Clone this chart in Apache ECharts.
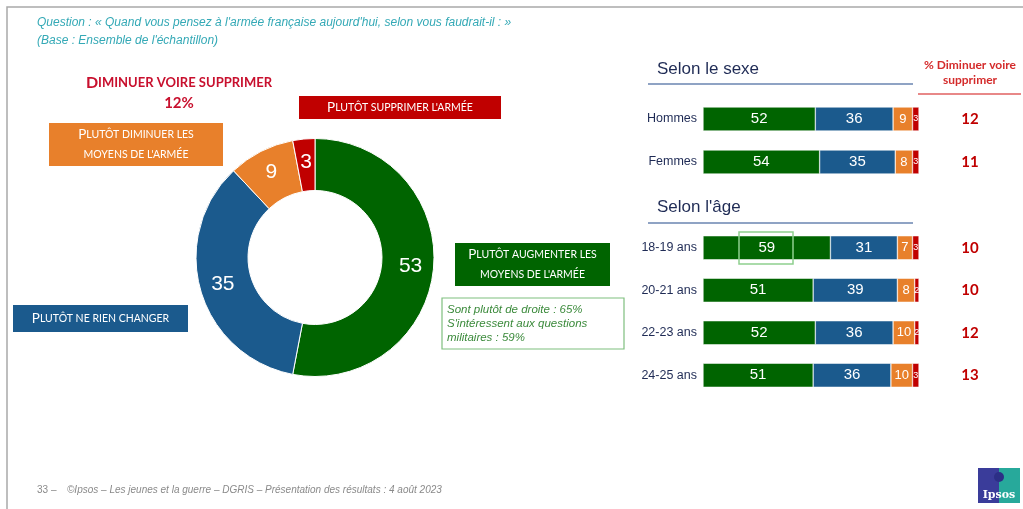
<!DOCTYPE html>
<html>
  <head>
    <meta charset="utf-8">
    <title>Ipsos - armée française</title>
    <style>
      html, body { margin: 0; padding: 0; background: #fff; }
    </style>
  </head>
  <body>
    <div id="main" style="width: 1023px;height:509px;"></div>

  <script src="https://cdn.jsdelivr.net/npm/echarts@6/dist/echarts.min.js" charset="utf-8"></script>
  <script type="text/javascript">
  // donut
  var pieNames = ['Plutôt augmenter les moyens de l\'armée', 'Plutôt ne rien changer',
                  'Plutôt diminuer les moyens de l\'armée', 'Plutôt supprimer l\'armée'];
  var pieValues = [53, 35, 9, 3];

  // barres
  var sexeCats = ['Hommes', 'Femmes'];
  var ageCats = ['18-19 ans', '20-21 ans', '22-23 ans', '24-25 ans'];
  var augmenterSexe = [52, 54];
  var changerSexe = [36, 35];
  var diminuerSexe = [9, 8];
  var supprimerSexe = [3, 3];
  var augmenterAge = [59, 51, 52, 51];
  var changerAge = [31, 39, 36, 36];
  var diminuerAge = [7, 8, 10, 10];
  var supprimerAge = [3, 2, 2, 3];
  var dimSupSexe = [12, 11];
  var dimSupAge = [10, 10, 12, 13];

  var GREEN = '#006400', BLUE = '#1b5a8d', ORANGE = '#e8802b', RED = '#c00000';
  var colors = [GREEN, BLUE, ORANGE, RED];
  var capsFont = 'Lato, "Open Sans", sans-serif';
  var narrowFont = '"Liberation Sans Narrow", "Liberation Sans", Arial, sans-serif';

  // petites majuscules : majuscule d'origine en grand, le reste en petit
  function smallCaps(str) {
    var out = '', cur = null, buf = '';
    for (var i = 0; i < str.length; i++) {
      var c = str[i];
      var st = (c !== c.toLowerCase()) ? 'b' : 's';
      if (c === '\n') { out += (buf ? '{' + cur + '|' + buf + '}' : '') + '\n'; buf = ''; cur = null; continue; }
      if (cur !== null && st !== cur && c !== ' ') { out += '{' + cur + '|' + buf + '}'; buf = ''; }
      if (cur === null || c !== ' ') cur = st;
      buf += c.toUpperCase();
    }
    if (buf) out += '{' + cur + '|' + buf + '}';
    return out;
  }

  function capsBox(x, y, w, h, fill, txt, big, small) {
    return {
      type: 'group',
      children: [
        { type: 'rect', shape: { x: x, y: y, width: w, height: h }, style: { fill: fill } },
        { type: 'text', x: x + w / 2, y: y + h / 2,
          style: { text: smallCaps(txt), align: 'center', verticalAlign: 'middle', lineHeight: 20,
            rich: {
              b: { fontFamily: capsFont, fontSize: big, fill: '#fff', lineHeight: 20 },
              s: { fontFamily: capsFont, fontSize: small, fill: '#fff', lineHeight: 20 }
            } } }
      ]
    };
  }

  function barSeries(data, color, grid, fs) {
    return {
      type: 'bar', stack: 's' + grid, xAxisIndex: grid, yAxisIndex: grid * 2,
      barWidth: 24, data: data,
      itemStyle: { color: color, borderColor: '#fff', borderWidth: 0.5 },
      label: { show: true, position: 'inside', color: '#fff', fontSize: fs, fontFamily: 'Arial, sans-serif' }
    };
  }

  function catAxis(cats, grid) {
    return {
      type: 'category', gridIndex: grid, data: cats, inverse: true,
      axisLine: { show: false }, axisTick: { show: false },
      axisLabel: { color: '#1f2b55', fontSize: 12.5, fontFamily: narrowFont, margin: 6 }
    };
  }

  function valCol(cats, vals, grid) {
    return {
      type: 'category', gridIndex: grid, data: cats, inverse: true, position: 'right',
      axisLine: { show: false }, axisTick: { show: false },
      axisLabel: { color: '#c00000', fontSize: 15, fontWeight: 'bold', fontFamily: capsFont,
        margin: 51, align: 'center',
        formatter: function (v, i) { return vals[i]; } }
    };
  }

  var myChart = echarts.init(document.getElementById('main'));

  var option = {
    backgroundColor: '#fff',
    animation: false,
    grid: [
      { left: 703, width: 216, top: 97.5, height: 86 },
      { left: 703, width: 216, top: 226.5, height: 170 }
    ],
    xAxis: [
      { type: 'value', gridIndex: 0, min: 0, max: 100, show: false },
      { type: 'value', gridIndex: 1, min: 0, max: 100, show: false }
    ],
    yAxis: [
      catAxis(sexeCats, 0), valCol(sexeCats, dimSupSexe, 0),
      catAxis(ageCats, 1), valCol(ageCats, dimSupAge, 1)
    ],
    series: [
      {
        type: 'pie',
        center: [315, 257.5],
        radius: [67, 119],
        startAngle: 90,
        clockwise: true,
        silent: true,
        data: pieNames.map(function (n, i) {
          return { name: n, value: pieValues[i], itemStyle: { color: colors[i] } };
        }),
        itemStyle: { borderColor: '#fff', borderWidth: 1 },
        label: { show: true, position: 'inside', formatter: '{c}', color: '#fff',
          fontSize: 21, fontFamily: 'Arial, sans-serif' },
        labelLine: { show: false }
      },
      barSeries(augmenterSexe, GREEN, 0, 15),
      barSeries(changerSexe, BLUE, 0, 15),
      barSeries(diminuerSexe, ORANGE, 0, 13),
      barSeries(supprimerSexe, RED, 0, 9),
      barSeries(augmenterAge, GREEN, 1, 15),
      barSeries(changerAge, BLUE, 1, 15),
      barSeries(diminuerAge, ORANGE, 1, 13),
      barSeries(supprimerAge, RED, 1, 9)
    ],
    graphic: [
      // cadre
      { type: 'polyline', shape: { points: [[7, 509], [7, 7], [1023, 7]] },
        style: { stroke: '#a9a9a9', lineWidth: 1.5, fill: null } },
      { type: 'text', x: 37, y: 23,
        style: { text: 'Question : « Quand vous pensez à l\'armée française aujourd\'hui, selon vous faudrait-il : »',
          fill: '#34a9b6', font: 'italic 12px Arial, sans-serif', verticalAlign: 'middle' } },
      { type: 'text', x: 37, y: 41,
        style: { text: '(Base : Ensemble de l\'échantillon)',
          fill: '#34a9b6', font: 'italic 12px Arial, sans-serif', verticalAlign: 'middle' } },

      // annotations du donut
      { type: 'text', x: 179, y: 83,
        style: { text: smallCaps('Diminuer voire supprimer'), align: 'center', verticalAlign: 'middle',
          rich: {
            b: { fontFamily: capsFont, fontSize: 16, fontWeight: 'bold', fill: '#c8102e' },
            s: { fontFamily: capsFont, fontSize: 13, fontWeight: 'bold', fill: '#c8102e' }
          } } },
      { type: 'text', x: 179, y: 103,
        style: { text: '12%', align: 'center', verticalAlign: 'middle',
          font: 'bold 15px ' + capsFont, fill: '#c8102e' } },
      capsBox(299, 96, 202, 23, RED, 'Plutôt supprimer l\'armée', 13.5, 10.5),
      capsBox(49, 123, 174, 43, ORANGE, 'Plutôt diminuer les\nmoyens de l\'armée', 13.5, 10.5),
      capsBox(455, 243, 155, 43, GREEN, 'Plutôt augmenter les\nmoyens de l\'armée', 13.5, 10.5),
      capsBox(13, 305, 175, 27, BLUE, 'Plutôt ne rien changer', 13.5, 10.5),
      { type: 'rect', shape: { x: 442, y: 298, width: 182, height: 51 },
        style: { fill: '#fff', stroke: '#7fbf7f', lineWidth: 1.2 } },
      { type: 'text', x: 447, y: 324,
        style: { text: 'Sont plutôt de droite : 65%\nS\'intéressent aux questions\nmilitaires : 59%',
          fill: '#3b8a3b', font: 'italic 11.5px Arial, sans-serif', lineHeight: 14,
          verticalAlign: 'middle' } },

      // titres des blocs de droite
      { type: 'text', x: 657, y: 69,
        style: { text: 'Selon le sexe', fill: '#1f2b55', font: '17px ' + narrowFont, verticalAlign: 'middle' } },
      { type: 'line', shape: { x1: 648, y1: 84, x2: 913, y2: 84 }, style: { stroke: '#8fa3c4', lineWidth: 2 } },
      { type: 'text', x: 657, y: 207,
        style: { text: 'Selon l\'âge', fill: '#1f2b55', font: '17px ' + narrowFont, verticalAlign: 'middle' } },
      { type: 'line', shape: { x1: 648, y1: 223, x2: 913, y2: 223 }, style: { stroke: '#8fa3c4', lineWidth: 2 } },
      { type: 'text', x: 970, y: 73,
        style: { text: '% Diminuer voire\nsupprimer', align: 'center', verticalAlign: 'middle', lineHeight: 15,
          fill: '#d42b2b', font: 'bold 12px ' + capsFont } },
      { type: 'line', shape: { x1: 918, y1: 94, x2: 1021, y2: 94 }, style: { stroke: '#e06060', lineWidth: 1.5 } },

      // surlignage 18-19 ans
      { type: 'rect', z: 100, shape: { x: 739, y: 232, width: 54, height: 32 },
        style: { fill: null, stroke: '#8fcf8f', lineWidth: 1.5 } },

      // pied de page
      { type: 'text', x: 37, y: 490,
        style: { text: '33 –', fill: '#8a8a8a', font: '10px Arial, sans-serif', verticalAlign: 'middle' } },
      { type: 'text', x: 67, y: 490,
        style: { text: '©Ipsos – Les jeunes et la guerre – DGRIS – Présentation des résultats : 4 août 2023',
          fill: '#8a8a8a', font: 'italic 10px ' + narrowFont, verticalAlign: 'middle' } },
      { type: 'rect', shape: { x: 978, y: 468, width: 21, height: 35 }, style: { fill: '#3a3c9a' } },
      { type: 'rect', shape: { x: 999, y: 468, width: 21, height: 35 }, style: { fill: '#27a99b' } },
      { type: 'circle', shape: { cx: 999, cy: 477, r: 5 }, style: { fill: '#2c2f86' } },
      { type: 'text', x: 999, y: 495,
        style: { text: 'Ipsos', fill: '#fff', align: 'center', verticalAlign: 'middle',
          font: 'bold 11px "DejaVu Serif", serif' } }
    ]
  };
  myChart.setOption(option);
  </script>
  </body>
</html>
